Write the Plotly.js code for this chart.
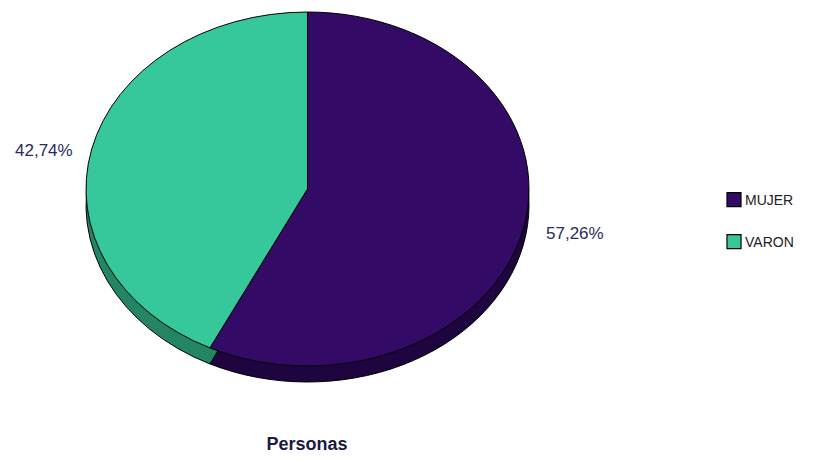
<!DOCTYPE html>
<html><head><meta charset="utf-8">
<script src="https://cdn.plot.ly/plotly-3.0.1.min.js"></script>
<style>html,body{margin:0;padding:0;background:#fff;} #chart{width:820px;height:461px;}</style>
</head><body><div id="chart"></div>
<script>
const categories = ['MUJER', 'VARON'];
const percentages = [57.26, 42.74];
const chartTitle = 'Personas';

const W = 820, H = 461;
const colorsTop = ['#330A66', '#36C79A'];
const colorsSide = ['#1E053F', '#248563'];
const cxPx = 307.5, cyPx = 189, ry = 177, rx = 221.5, depth = 16;
function dom(offset) {
  return { x: [(cxPx - ry) / W, (cxPx + ry) / W],
           y: [(H - (cyPx + offset + ry)) / H, (H - (cyPx + offset - ry)) / H] };
}
const common = { type: 'pie', labels: categories, values: percentages, sort: false,
  direction: 'clockwise', rotation: 0, textinfo: 'none', hoverinfo: 'label+percent' };
const sideTrace = Object.assign({}, common, { domain: dom(depth), showlegend: false,
  marker: { colors: colorsSide, line: { color: '#000', width: 1 } } });
const faceTrace = Object.assign({}, common, { domain: dom(0),
  marker: { colors: colorsTop, line: { color: '#000', width: 1 } } });

const fmt = v => v.toFixed(2).replace('.', ',') + '%';
const labelPos = [{ x: 575, y: 233 }, { x: 44, y: 151 }];
const annotations = percentages.map((v, i) => ({
  text: fmt(v), xref: 'paper', yref: 'paper', x: labelPos[i].x / W, y: 1 - labelPos[i].y / H,
  xanchor: 'center', yanchor: 'middle', showarrow: false,
  font: { family: 'Liberation Sans, Arial, sans-serif', size: 17, color: '#2B2B5C' }
}));

const legendItemGap = 42;
const layout = {
  width: W, height: H, margin: { l: 0, r: 0, t: 0, b: 0 },
  paper_bgcolor: '#fff', plot_bgcolor: '#fff',
  title: { text: '<b>' + chartTitle + '</b>', x: 307 / W, xanchor: 'center', y: 1 - 444 / H,
    yanchor: 'middle', yref: 'container',
    font: { family: 'Liberation Sans, Arial, sans-serif', size: 18, color: '#1A1A40' } },
  legend: { x: 705 / W, xanchor: 'left', y: 1 - 184 / H, yanchor: 'top',
    bgcolor: 'rgba(0,0,0,0)',
    font: { family: 'Liberation Sans, Arial, sans-serif', size: 14, color: '#222' } },
  annotations: annotations
};

Plotly.newPlot('chart', [sideTrace, faceTrace], layout, { displayModeBar: false, staticPlot: true }).then(gd => {
  const s = rx / ry;
  gd.querySelectorAll('.pielayer .trace').forEach(g => {
    const prev = g.getAttribute('transform') || '';
    g.setAttribute('transform', 'translate(' + cxPx + ',0) scale(' + s + ',1) translate(' + (-cxPx) + ',0) ' + prev);
    g.querySelectorAll('path').forEach(p => p.setAttribute('vector-effect', 'non-scaling-stroke'));
  });
  gd.querySelectorAll('.legend .scrollbox, .legend').forEach(el => el.removeAttribute('clip-path'));
  const items = gd.querySelectorAll('.legend .traces');
  let firstY = null;
  items.forEach((it, i) => {
    const m = /translate\(\s*([-\d.]+)[ ,]+([-\d.]+)\s*\)/.exec(it.getAttribute('transform') || '');
    if (m) {
      const x0 = parseFloat(m[1]);
      if (firstY === null) firstY = parseFloat(m[2]);
      it.setAttribute('transform', 'translate(' + x0 + ',' + (firstY + i * legendItemGap) + ')');
    }
    const pts = it.querySelector('.legendpoints');
    if (pts) pts.setAttribute('transform', 'translate(5.6,0) scale(1.17)');
  });
});
</script>
</body></html>
